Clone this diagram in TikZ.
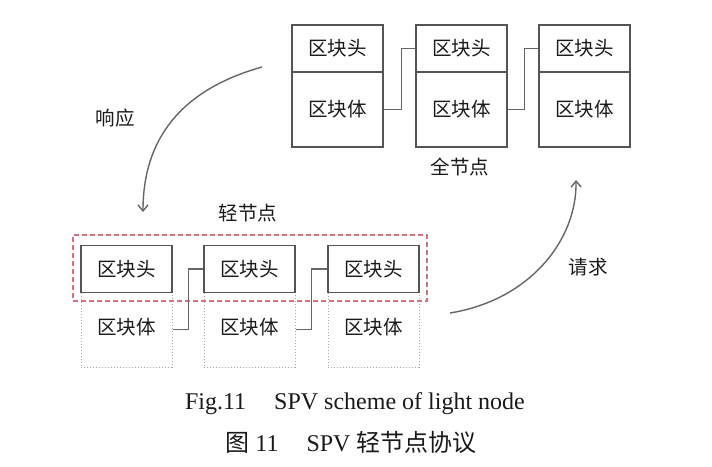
\documentclass[tikz,border=0pt]{standalone}
\usepackage{fontspec}
\setmainfont{Liberation Serif}
\newfontfamily\cjk{Noto Sans CJK SC}
\usetikzlibrary{arrows.meta}
\definecolor{boxline}{HTML}{555555}
\definecolor{linkline}{HTML}{666666}
\definecolor{dotline}{HTML}{AAAAAA}
\definecolor{reddash}{HTML}{D9707E}
\definecolor{txt}{HTML}{1A1A1A}
\tikzset{
  headbox/.style={draw=boxline, line width=1.6pt, minimum width=91pt, minimum height=47pt, inner sep=0pt, font=\cjk\fontsize{19.5}{19.5}\selectfont, text=txt},
  bodybox/.style={draw=boxline, line width=1.6pt, minimum width=91pt, minimum height=75pt, inner sep=0pt, font=\cjk\fontsize{19.5}{19.5}\selectfont, text=txt},
  ghostbox/.style={draw=dotline, dash pattern=on 1.2pt off 1.8pt, line width=1pt, minimum width=91pt, minimum height=75pt, inner sep=0pt},
  link/.style={draw=linkline, line width=1.3pt},
  label/.style={font=\cjk\fontsize{19.5}{19.5}\selectfont, text=txt, inner sep=0pt},
  flow/.style={draw=linkline, line width=1.4pt, -{Straight Barb[length=6pt,width=10pt]}},
  caption/.style={font=\fontsize{24}{24}\selectfont, text=txt, inner sep=0pt}
}
\begin{document}
\begin{tikzpicture}[x=1pt,y=-1pt]
\useasboundingbox (0,0) rectangle (712,466);
% full node chain
\node[headbox] (h1) at (337.5,48.5) {区块头};
\node[bodybox] (b1) at (337.5,109.5) {区块体};
\node[headbox] (h2) at (461.5,48.5) {区块头};
\node[bodybox] (b2) at (461.5,109.5) {区块体};
\node[headbox] (h3) at (584.5,48.5) {区块头};
\node[bodybox] (b3) at (584.5,109.5) {区块体};
\draw[link] (b1.east) -- ++(18,0) |- (h2.west);
\draw[link] (b2.east) -- ++(17,0) |- (h3.west);
\node[label] (full) at (460,167) {全节点};
% light node chain
\node[draw=reddash, dash pattern=on 5pt off 3pt, line width=1.2pt, minimum width=354pt, minimum height=66pt, inner sep=0pt] (lightbox) at (250,268) {};
\node[ghostbox] (lb1) at (126.5,329.5) {};
\node[ghostbox] (lb2) at (249.5,329.5) {};
\node[ghostbox] (lb3) at (373.5,329.5) {};
\node[headbox, fill=white] (lh1) at (126.5,269) {区块头};
\node[headbox, fill=white] (lh2) at (249.5,269) {区块头};
\node[headbox, fill=white] (lh3) at (373.5,269) {区块头};
\node[label] (lt1) at (126.5,327) {区块体};
\node[label] (lt2) at (249.5,327) {区块体};
\node[label] (lt3) at (373.5,327) {区块体};
\draw[link] (lb1.east) -- ++(16,0) |- (lh2.west);
\draw[link] (lb2.east) -- ++(16,0) |- (lh3.west);
\node[label] (light) at (248,213) {轻节点};
% flows
\coordinate (rs) at (262,67);
\coordinate (re) at (143,212);
\coordinate (qs) at (450,313);
\coordinate (qe) at (576,180);
\draw[flow] (rs) .. controls (180,90) and (143,140) .. (re);
\draw[flow] (qs) .. controls (530,300) and (577,240) .. (qe);
\node[label] (resp) at (115,118) {响应};
\node[label] (req) at (588,267) {请求};
% caption
\node[caption] (cap1) at (355,404) {Fig.11\hspace{28pt}SPV scheme of light node};
\node[caption] (cap2) at (351,442) {{\cjk 图} 11\hspace{28pt}SPV {\cjk 轻节点协议}};
\end{tikzpicture}
\end{document}
